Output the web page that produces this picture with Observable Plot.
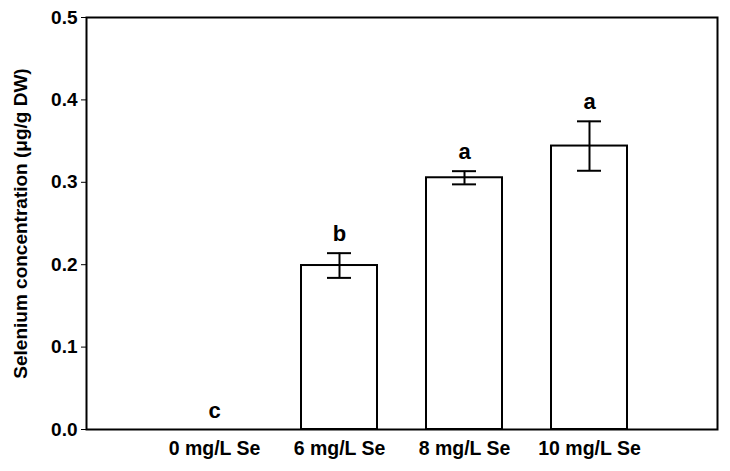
<!DOCTYPE html>
<html>
<head>
<meta charset="utf-8">
<script src="https://cdn.jsdelivr.net/npm/d3@7"></script>
<script src="https://cdn.jsdelivr.net/npm/@observablehq/plot@0.6"></script>
<style>
  html, body { margin: 0; padding: 0; background: #fff; }
</style>
</head>
<body>
<div id="chart"></div>
<script>
const categories = ["0 mg/L Se", "6 mg/L Se", "8 mg/L Se", "10 mg/L Se"];
const means = [0, 0.199, 0.3055, 0.344];
const errors = [0, 0.015, 0.008, 0.030];
const letters = ["c", "b", "a", "a"];
const yTicks = [0, 0.1, 0.2, 0.3, 0.4, 0.5];

const data = categories.map((c, i) => ({
  cat: c, mean: means[i], lo: means[i] - errors[i], hi: means[i] + errors[i], letter: letters[i]
}));
const barsData = data.filter(d => d.mean > 0);

const chart = Plot.plot({
  width: 730,
  height: 471,
  marginLeft: 86,
  marginRight: 13,
  marginTop: 17,
  marginBottom: 42,
  style: {
    fontFamily: "'Liberation Sans', Arial, sans-serif",
    fontWeight: "bold",
    fontSize: "19px",
    color: "black",
    background: "white"
  },
  x: {
    domain: categories,
    paddingInner: 0.395,
    paddingOuter: 0.713
  },
  y: {
    domain: [0, 0.5]
  },
  marks: [
    Plot.axisX({tickSize: 0, tickPadding: 12, label: null, fontSize: 19.5}),
    Plot.axisY({
      ticks: yTicks, tickFormat: d3.format(".1f"), tickSize: 5, tickPadding: 4, fontSize: 19,
      label: "Selenium concentration (μg/g DW)", labelAnchor: "center", labelArrow: "none", labelOffset: 73
    }),
    Plot.barY(barsData, {x: "cat", y: "mean", fill: "white", stroke: "black", strokeWidth: 2}),
    Plot.ruleX(barsData, {x: "cat", y1: "lo", y2: "hi", stroke: "black", strokeWidth: 2}),
    Plot.tickY(barsData, {x: "cat", y: "lo", stroke: "black", strokeWidth: 2, insetLeft: 26, insetRight: 26}),
    Plot.tickY(barsData, {x: "cat", y: "hi", stroke: "black", strokeWidth: 2, insetLeft: 26, insetRight: 26}),
    Plot.text(data, {x: "cat", y: "hi", text: "letter", dy: -19, fontSize: 22, fontWeight: "bold", fill: "black"}),
    Plot.frame({stroke: "black", strokeWidth: 2})
  ]
});
document.getElementById("chart").appendChild(chart);
</script>
</body>
</html>
